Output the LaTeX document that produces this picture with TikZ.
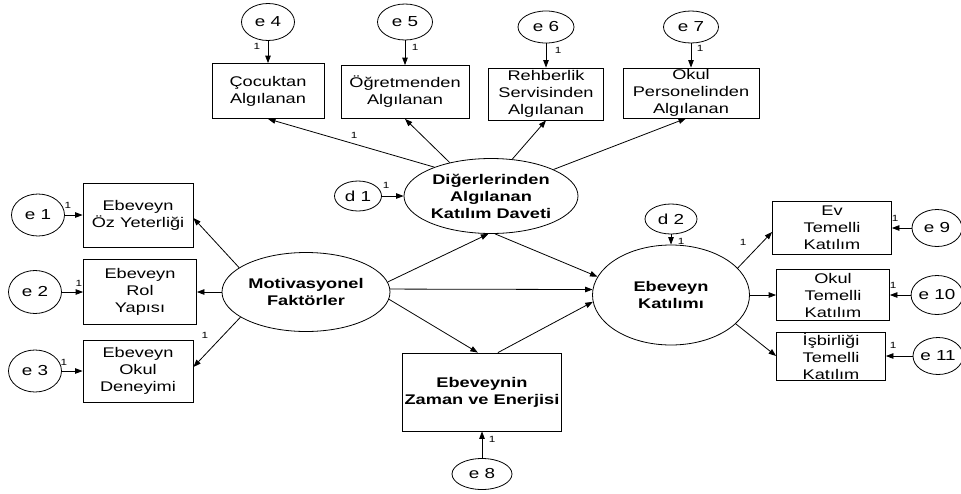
\documentclass[tikz,border=0pt]{standalone}
\usepackage{fontspec}
\setmainfont{Liberation Sans}[FakeStretch=1.3]
\usetikzlibrary{shapes.geometric,arrows.meta}
\tikzset{
 lat/.style={draw, ellipse, line width=0.8pt, inner sep=0pt, align=center, font=\bfseries\fontsize{14}{17}\selectfont},
 obs/.style={draw, rectangle, line width=0.8pt, inner sep=0pt, align=center, font=\fontsize{14}{17}\selectfont},
 obsb/.style={obs, font=\bfseries\fontsize{14}{17}\selectfont},
 err/.style={draw, ellipse, line width=0.8pt, inner sep=0pt, font=\fontsize{14.5}{17}\selectfont},
 arr/.style={-{Triangle[length=7.5pt,width=5.5pt]}, line width=0.8pt},
 one/.style={font=\fontsize{9}{10}\selectfont, inner sep=0pt}
}
\begin{document}
\begin{tikzpicture}[x=1pt,y=-1pt]
\useasboundingbox (0,0) rectangle (961,493);
% top observed
\node[obs, minimum width=112pt, minimum height=55pt] (coc) at (268,91) {Çocuktan\\Algılanan};
\node[obs, minimum width=128pt, minimum height=53pt] (ogr) at (405,92) {Öğretmenden\\Algılanan};
\node[obs, minimum width=115pt, minimum height=52pt] (reh) at (546,94) {Rehberlik\\Servisinden\\Algılanan};
\node[obs, minimum width=136pt, minimum height=50pt] (okp) at (691,93) {Okul\\Personelinden\\Algılanan};
\node[err, minimum width=53pt, minimum height=37pt] (e4) at (268,22) {e 4};
\node[err, minimum width=55pt, minimum height=36pt] (e5) at (405,22) {e 5};
\node[err, minimum width=56pt, minimum height=32pt] (e6) at (546,27) {e 6};
\node[err, minimum width=55pt, minimum height=32pt] (e7) at (691,27) {e 7};
% latent
\node[lat, minimum width=174pt, minimum height=75pt] (dig) at (491,196) {Diğerlerinden\\Algılanan\\Katılım Daveti};
\node[err, minimum width=47pt, minimum height=30pt] (d1) at (358,196) {d 1};
\node[lat, minimum width=168pt, minimum height=79pt] (mot) at (306,292) {Motivasyonel\\Faktörler};
\node[lat, minimum width=157pt, minimum height=100pt] (kat) at (671,295) {Ebeveyn\\Katılımı};
\node[err, minimum width=52pt, minimum height=30pt] (d2) at (671,219) {d 2};
\node[obsb, minimum width=159pt, minimum height=78pt] (zam) at (482,392) {Ebeveynin\\Zaman ve Enerjisi};
\node[err, minimum width=60pt, minimum height=31pt] (e8) at (482,474) {e 8};
% left observed
\node[obs, minimum width=110pt, minimum height=64pt] (oz) at (138,215) {Ebeveyn\\Öz Yeterliği};
\node[obs, minimum width=113pt, minimum height=65pt] (rol) at (140,292) {Ebeveyn\\Rol\\Yapısı};
\node[obs, minimum width=110pt, minimum height=62pt] (okd) at (138,371) {Ebeveyn\\Okul\\Deneyimi};
\node[err, minimum width=53pt, minimum height=42pt] (e1) at (38,215) {e 1};
\node[err, minimum width=53pt, minimum height=43pt] (e2) at (35,292) {e 2};
\node[err, minimum width=53pt, minimum height=42pt] (e3) at (35,371) {e 3};
% right observed
\node[obs, minimum width=119pt, minimum height=53pt] (ev) at (832,228) {Ev\\Temelli\\Katılım};
\node[obs, minimum width=113pt, minimum height=51pt] (okt) at (833,295) {Okul\\Temelli\\Katılım};
\node[obs, minimum width=109pt, minimum height=48pt] (isb) at (831,356) {İşbirliği\\Temelli\\Katılım};
\node[err, minimum width=50pt, minimum height=37pt] (e9) at (937,228) {e 9};
\node[err, minimum width=50pt, minimum height=39pt] (e10) at (937,295) {e 10};
\node[err, minimum width=50pt, minimum height=37pt] (e11) at (938,356) {e 11};
% arrows top
\draw[arr] (e4) -- (coc.north);
\draw[arr] (e5) -- (ogr.north);
\draw[arr] (e6) -- (reh.north);
\draw[arr] (e7) -- (okp.north);
\draw[arr] (dig.153) -- (coc.south);
\draw[arr] (dig.141) -- (ogr.south);
\draw[arr] (dig.60) -- (reh.south);
\draw[arr] (dig.23) -- ([xshift=-5pt]okp.south);
\draw[arr] (d1) -- (dig);
% left
\draw[arr] (e1) -- (oz.west);
\draw[arr] (e2) -- (rol.west);
\draw[arr] (e3) -- (okd.west);
\draw[arr] (mot.160) -- ([yshift=-3pt]oz.east);
\draw[arr] (mot.west) -- (rol.east);
\draw[arr] (mot.201) -- ([yshift=4pt]okd.east);
% center
\draw[arr] (mot.7) -- (dig.266);
\draw[arr] (mot.2) -- (kat.176);
\draw[arr] (mot.355) -- (zam.96);
\draw[arr] (dig.276) -- (kat.166);
\draw[arr] (zam.68) -- (kat.185);
\draw[arr] (d2) -- (kat.north);
\draw[arr] (e8) -- (zam.south);
% right
\draw[arr] (kat.22) -- ([yshift=-4pt]ev.west);
\draw[arr] (kat.east) -- (okt.west);
\draw[arr] (kat.336) -- (isb.west);
\draw[arr] (e9) -- (ev.east);
\draw[arr] (e10) -- (okt.east);
\draw[arr] (e11) -- (isb.east);
% labels
\node[one] (l4) at (257,46) {1};
\node[one] (l5) at (415,47) {1};
\node[one] (l6) at (558,50) {1};
\node[one] (l7) at (700,48) {1};
\node[one] (lc) at (354,135) {1};
\node[one] (ld1) at (386,185) {1};
\node[one] (l1) at (68,205) {1};
\node[one] (l2) at (79,283) {1};
\node[one] (l3) at (64,362) {1};
\node[one] (lok) at (205,335) {1};
\node[one] (ld2) at (681,241) {1};
\node[one] (lev) at (743,242) {1};
\node[one] (l9) at (895,218) {1};
\node[one] (l10) at (893,285) {1};
\node[one] (l11) at (893,345) {1};
\node[one] (l8) at (492,439) {1};
\end{tikzpicture}
\end{document}
